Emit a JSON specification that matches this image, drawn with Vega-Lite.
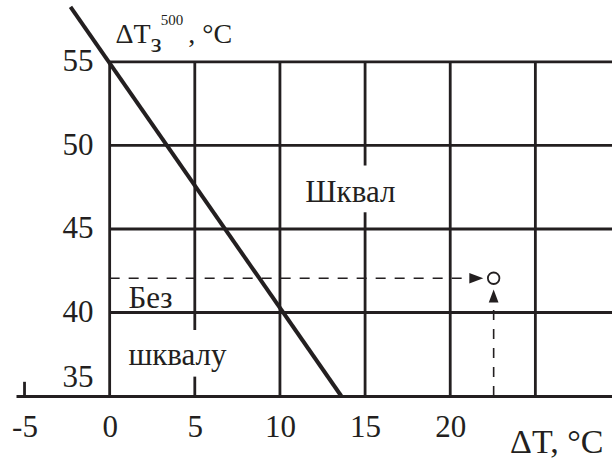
{
  "$schema": "https://vega.github.io/schema/vega-lite/v6.json",
  "width": 596,
  "height": 396,
  "autosize": {"type": "none"},
  "padding": {"left": 16, "top": 0, "right": 0, "bottom": 65},
  "background": "white",
  "config": {"view": {"stroke": null}, "font": "Liberation Serif"},
  "datasets": {
    "grid": [
      {"x": 0, "y": 55, "x2": 29.5, "y2": 55},
      {"x": 0, "y": 50, "x2": 29.5, "y2": 50},
      {"x": 0, "y": 45, "x2": 29.5, "y2": 45},
      {"x": 0, "y": 40, "x2": 29.5, "y2": 40},
      {"x": 0, "y": 35, "x2": 0, "y2": 55},
      {"x": 5, "y": 38.95, "x2": 5, "y2": 55},
      {"x": 5, "y": 35, "x2": 5, "y2": 36.16},
      {"x": 10, "y": 35, "x2": 10, "y2": 55},
      {"x": 15, "y": 48.8, "x2": 15, "y2": 55},
      {"x": 15, "y": 35, "x2": 15, "y2": 46.0},
      {"x": 20, "y": 35, "x2": 20, "y2": 55},
      {"x": 25, "y": 35, "x2": 25, "y2": 55},
      {"x": -5, "y": 35, "x2": -5, "y2": 35.85}
    ],
    "boundary": [
      {"x": -2.3, "y": 58.3, "x2": 13.6, "y2": 35}
    ],
    "dashed": [
      {"x": 0, "y": 42.05, "x2": 20.7, "y2": 42.05},
      {"x": 22.55, "y": 35, "x2": 22.55, "y2": 40.65}
    ],
    "point": [{"x": 22.55, "y": 42.05}],
    "arrowRight": [{"x": 21.53, "y": 42.05}],
    "arrowUp": [{"x": 22.55, "y": 40.99}],
    "regions": [
      {"x": 11.49, "y": 46.62, "label": "Шквал"},
      {"x": 1.1, "y": 40.27, "label": "Без"},
      {"x": 1.1, "y": 36.86, "label": "шквалу"}
    ],
    "titleMain": [
      {"x": 0.34, "y": 56.14, "label": "ΔT"},
      {"x": 2.4, "y": 55.6, "label": "з"},
      {"x": 4.62, "y": 56.14, "label": ", °C"}
    ],
    "titleSup": [
      {"x": 3.0, "y": 57.2, "label": "500"}
    ]
  },
  "encoding": {
    "x": {
      "field": "x",
      "type": "quantitative",
      "scale": {"domain": [-5.5, 29.5], "nice": false, "zero": false},
      "axis": {
        "values": [-5, 0, 5, 10, 15, 20],
        "labelExpr": "replace(datum.label, '\u2212', '-')",
        "domainColor": "#231f20",
        "domainWidth": 3,
        "ticks": false,
        "tickSize": 0,
        "grid": false,
        "labelFont": "Liberation Serif",
        "labelFontSize": 31,
        "labelColor": "#231f20",
        "labelPadding": 31,
        "labelBaseline": "middle",
        "labelFlush": false,
        "labelOverlap": false,
        "title": "ΔT, °C",
        "titleFont": "Liberation Serif",
        "titleFontSize": 34,
        "titleFontWeight": "normal",
        "titleColor": "#231f20",
        "titleX": 587,
        "titleY": 46,
        "titleAlign": "right",
        "titleBaseline": "middle"
      }
    },
    "y": {
      "field": "y",
      "type": "quantitative",
      "scale": {"domain": [35, 58.71], "nice": false, "zero": false},
      "axis": {
        "values": [35, 40, 45, 50, 55],
        "domain": false,
        "ticks": false,
        "tickSize": 0,
        "grid": false,
        "offset": -79,
        "labelPadding": 2,
        "labelFont": "Liberation Serif",
        "labelFontSize": 31,
        "labelColor": "#231f20",
        "labelBaseline": "middle",
        "labelOffset": {"condition": {"test": "datum.value === 35", "value": -19}, "value": 0},
        "labelFlush": false,
        "labelOverlap": false,
        "title": null
      }
    }
  },
  "layer": [
    {
      "data": {"name": "grid"},
      "mark": {"type": "rule", "color": "#231f20", "strokeWidth": 2.8},
      "encoding": {"x2": {"field": "x2"}, "y2": {"field": "y2"}}
    },
    {
      "data": {"name": "boundary"},
      "mark": {"type": "rule", "color": "#231f20", "strokeWidth": 4},
      "encoding": {"x2": {"field": "x2"}, "y2": {"field": "y2"}}
    },
    {
      "data": {"name": "dashed"},
      "mark": {"type": "rule", "color": "#231f20", "strokeWidth": 1.6, "strokeDash": [10, 9]},
      "encoding": {"x2": {"field": "x2"}, "y2": {"field": "y2"}}
    },
    {
      "data": {"name": "point"},
      "mark": {"type": "point", "shape": "circle", "filled": true, "fill": "white", "stroke": "#231f20", "strokeWidth": 1.8, "size": 133, "opacity": 1}
    },
    {
      "data": {"name": "arrowRight"},
      "mark": {"type": "point", "shape": "M-1,-0.75L1,0L-1,0.75Z", "filled": true, "fill": "#231f20", "strokeWidth": 0, "size": 196, "opacity": 1}
    },
    {
      "data": {"name": "arrowUp"},
      "mark": {"type": "point", "shape": "M-0.75,1L0,-1L0.75,1Z", "filled": true, "fill": "#231f20", "strokeWidth": 0, "size": 169, "opacity": 1}
    },
    {
      "data": {"name": "regions"},
      "mark": {"type": "text", "font": "Liberation Serif", "fontSize": 31, "align": "left", "baseline": "alphabetic", "color": "#231f20"},
      "encoding": {"text": {"field": "label"}}
    },
    {
      "data": {"name": "titleMain"},
      "mark": {"type": "text", "font": "Liberation Serif", "fontSize": 28, "align": "left", "baseline": "alphabetic", "color": "#231f20"},
      "encoding": {"text": {"field": "label"}}
    },
    {
      "data": {"name": "titleSup"},
      "mark": {"type": "text", "font": "Liberation Serif", "fontSize": 15, "align": "left", "baseline": "alphabetic", "color": "#231f20"},
      "encoding": {"text": {"field": "label"}}
    }
  ]
}
